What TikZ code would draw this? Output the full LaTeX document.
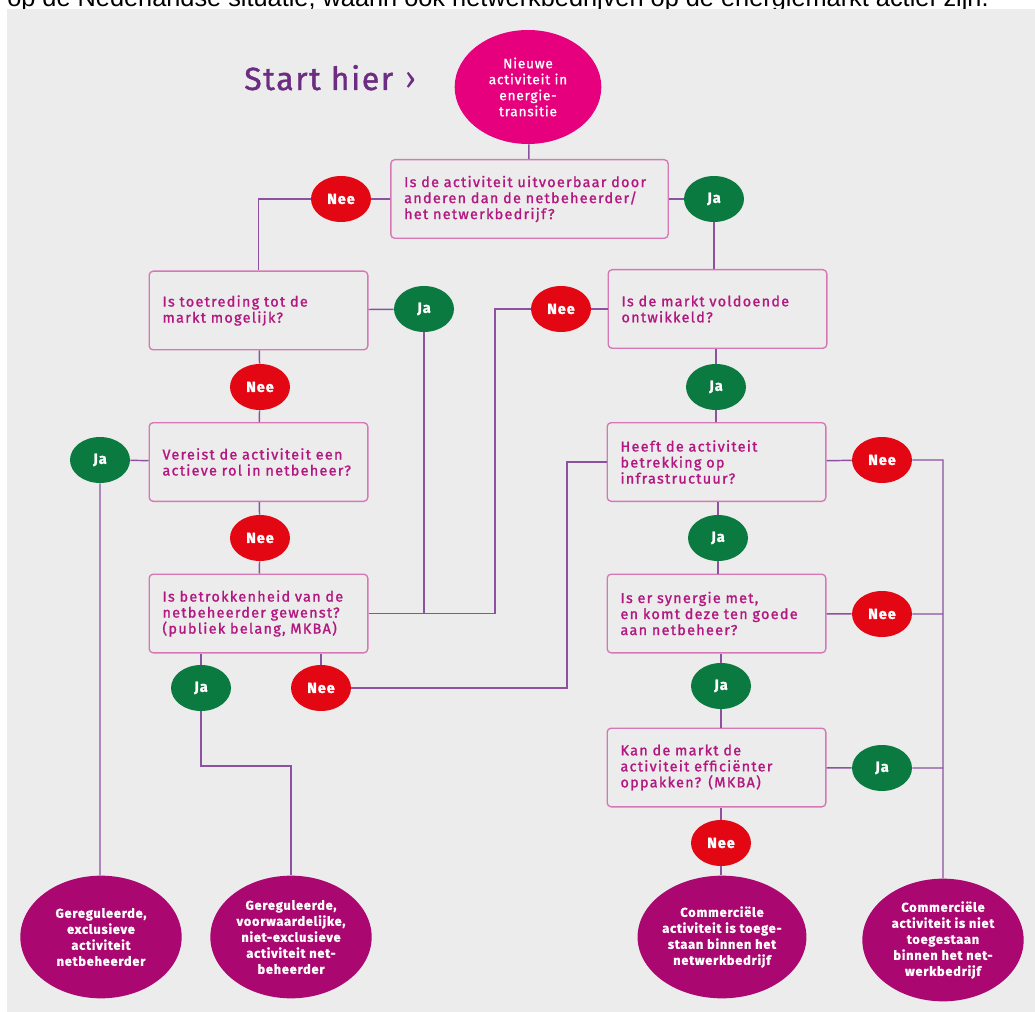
\documentclass[tikz,border=0pt]{standalone}
\usepackage{fontspec}
\usetikzlibrary{shapes.geometric}

\setmainfont{Fira Sans}
\newfontfamily\kopfont{Liberation Sans}
\newfontfamily\chartfont{Fira Sans}[LetterSpace=6, FakeBold=1.3]
\newfontfamily\vraagfont{Fira Sans}[LetterSpace=9, FakeBold=1.3]
\newfontfamily\startfont{Fira Sans}[LetterSpace=5, FakeBold=1.2]

\definecolor{panelgray}{RGB}{236,236,236}
\definecolor{startroze}{RGB}{230,0,126}
\definecolor{eindpaars}{RGB}{170,8,112}
\definecolor{neerood}{RGB}{227,6,19}
\definecolor{jagroen}{RGB}{10,122,64}
\definecolor{lijnpaars}{RGB}{140,82,160}
\definecolor{kaderroze}{RGB}{214,120,182}
\definecolor{vraagtekst}{RGB}{178,24,128}
\definecolor{starttekst}{RGB}{107,44,130}

\tikzset{
	vraag/.style={draw=kaderroze, line width=1pt, rounded corners=3pt,
		minimum width=164pt, minimum height=59pt, inner xsep=10pt,
		text width=144pt, align=left, text=vraagtekst,
		font=\vraagfont\fontsize{10.8}{12}\selectfont},
	keuze/.style={ellipse, minimum width=45pt, minimum height=34.5pt, inner sep=0pt,
		text=white, font=\chartfont\bfseries\fontsize{11}{12}\selectfont},
	nee/.style={keuze, fill=neerood},
	ja/.style={keuze, fill=jagroen},
	uitkomst/.style={ellipse, fill=eindpaars, minimum width=121pt, minimum height=92pt,
		inner sep=0pt, align=center, text=white,
		font=\chartfont\bfseries\fontsize{9.6}{12}\selectfont},
	verbinding/.style={draw=lijnpaars, line width=1.1pt}
}

\begin{document}
\begin{tikzpicture}[x=0.75pt, y=-0.75pt]

\useasboundingbox (0,0) rectangle (1035,1012);
\fill[white] (0,0) rectangle (1035,1012);

% afgesneden regel boven het schema
\node[anchor=base west, inner sep=0pt, font=\kopfont\fontsize{19}{22}\selectfont] (kop) at (7,7)
	{op de Nederlandse situatie, waarin ook netwerkbedrijven op de energiemarkt actief zijn.};
\fill[panelgray] (7,9) rectangle (1035,1012);

% start
\node[anchor=base west, inner sep=0pt, text=starttekst, font=\startfont\fontsize{24}{28}\selectfont] (starthier) at (244,90)
	{Start hier\hspace{9pt}{\fontspec{Fira Sans}›}};
\node[ellipse, fill=startroze, minimum width=110pt, minimum height=85.5pt, inner sep=0pt,
	align=center, text=white, font=\chartfont\fontsize{10.2}{12}\selectfont] (start) at (528,87)
	{Nieuwe\\activiteit in\\energie-\\transitie};

% vragen
\node[vraag, minimum width=208pt, text width=188pt] (q1) at (529.5,199) {Is de activiteit uitvoerbaar door\\anderen dan de netbeheerder/\\het netwerkbedrijf?};
\node[vraag] (q2) at (258.5,310.5) {Is toetreding tot de\\markt mogelijk?};
\node[vraag] (q3) at (717.5,309) {Is de markt voldoende\\ontwikkeld?};
\node[vraag] (q4) at (258.5,462) {Vereist de activiteit een\\actieve rol in netbeheer?};
\node[vraag] (q5) at (716.5,462) {Heeft de activiteit\\betrekking op\\infrastructuur?};
\node[vraag] (q6) at (258.5,613.5) {Is betrokkenheid van de\\netbeheerder gewenst?\\(publiek belang, MKBA)};
\node[vraag] (q7) at (716.5,613.5) {Is er synergie met,\\en komt deze ten goede\\aan netbeheer?};
\node[vraag] (q8) at (716.5,767.5) {Kan de markt de\\activiteit efficiënter\\oppakken? (MKBA)};

% antwoorden
\foreach \naam/\x/\y in {n1/341/199, n3/561/309, n2/260/387, n4/260/538, n6/321/688, n5/882/460, n7/882/614, n8/721/843}
	\node[nee] (\naam) at (\x,\y) {Nee};
\foreach \naam/\x/\y in {j1/714/199, j2/424/309, j3/716/387, j4/100/460, j5/718/538, j6/201/688, j7/721/686, j8/882/768}
	\node[ja] (\naam) at (\x,\y) {Ja};

% uitkomsten
\node[uitkomst] (e1) at (101,937) {Gereguleerde,\\exclusieve\\activiteit\\netbeheerder};
\node[uitkomst] (e2) at (291,937) {Gereguleerde,\\voorwaardelijke,\\niet-exclusieve\\activiteit net-\\beheerder};
\node[uitkomst] (e3) at (722,937) {Commerciële\\activiteit is toege-\\staan binnen het\\netwerkbedrijf};
\node[uitkomst] (e4) at (943,940) {Commerciële\\activiteit is niet\\toegestaan\\binnen het net-\\werkbedrijf};

\coordinate (k1) at (495,309);
\coordinate (k2) at (567,462);
\coordinate (k3) at (201,766);

% verbindingen
\draw[verbinding] (start) -- (q1);
\draw[verbinding] (q1) -- (n1);
\draw[verbinding] (n1) -| (q2);
\draw[verbinding] (q1) -- (j1);
\draw[verbinding] (j1) -- (j1 |- q3.north);
\draw[verbinding] (q2) -- (j2);
\draw[verbinding] (j2) -- (j2 |- q6.east);
\draw[verbinding] (q3) -- (n3);
\draw[verbinding] (n3) -- (k1) |- (q6.east);
\draw[verbinding] (q2) -- (n2) -- (q4);
\draw[verbinding] (q3.south -| j3) -- (j3) -- (j3 |- q5.north);
\draw[verbinding] (q4) -- (j4) -- (j4 |- e1.north);
\draw[verbinding] (q4) -- (n4) -- (q6);
\draw[verbinding] (q5) -- (n5) -| (e4);
\draw[verbinding] (q5) -- (k2) |- (n6);
\draw[verbinding] (q5.south -| j5) -- (j5) -- (j5 |- q7.north);
\draw[verbinding] (q7) -- (n7) -- (n7 -| e4);
\draw[verbinding] (q7.south -| j7) -- (j7) -- (j7 |- q8.north);
\draw[verbinding] (q8) -- (j8) -- (j8 -| e4);
\draw[verbinding] (q8.south -| n8) -- (n8) -- (n8 |- e3.north);
\draw[verbinding] (q6.south -| j6) -- (j6) -- (k3) -| (e2);
\draw[verbinding] (q6.south -| n6) -- (n6);
\end{tikzpicture}
\end{document}
